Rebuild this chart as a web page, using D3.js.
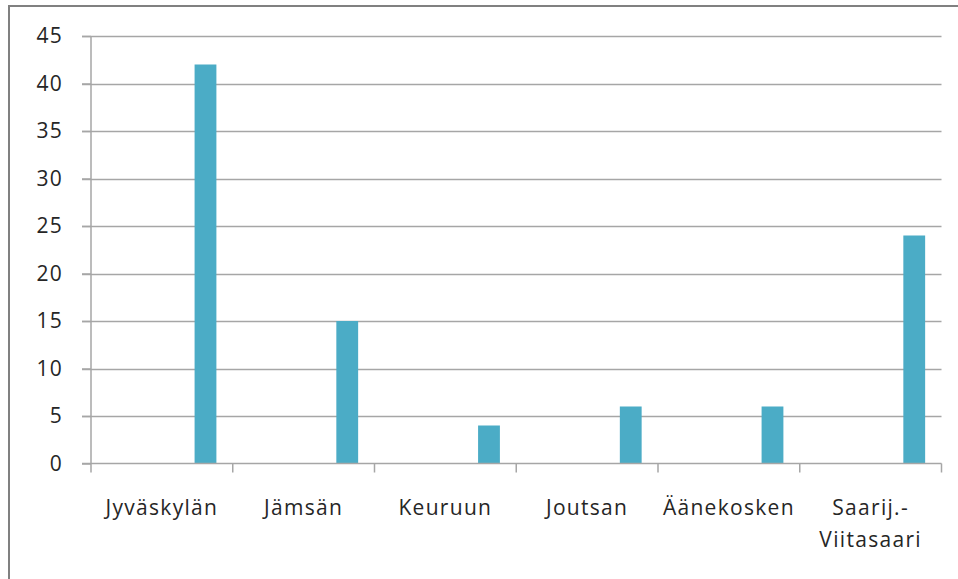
<!DOCTYPE html>
<html><head><meta charset="utf-8">
<script src="https://cdn.jsdelivr.net/npm/d3@7"></script>
<style>body{margin:0;background:#fff}svg{display:block}</style>
</head><body>
<script>
const categories = ["Jyväskylän", "Jämsän", "Keuruun", "Joutsan", "Äänekosken", "Saarij.-\nViitasaari"];
const values = [42, 15, 4, 6, 6, 24];
const yTicks = [0, 5, 10, 15, 20, 25, 30, 35, 40, 45];
const seriesSlots = ["s1", "s2", "s3", "s4", "s5"]; // clustered slots; only last holds data

(function () {
const W = 958, H = 579;
const svg = d3.select("body").append("svg").attr("width", W).attr("height", H);
const font = "'Open Sans', 'DejaVu Sans', sans-serif";

svg.append("rect").attr("x", 9).attr("y", 6).attr("width", 960).attr("height", 600)
  .attr("fill", "none").attr("stroke", "#808080").attr("stroke-width", 2);

const pLeft = 91, pRight = 941.5, pTop = 36, pBottom = 463.5;
const x = d3.scaleBand().domain(categories).range([pLeft, pRight]).paddingInner(0).paddingOuter(0);
const y = d3.scaleLinear().domain([0, 45]).range([pBottom, pTop]);
const bw = x.bandwidth() / (seriesSlots.length + 1.5);
const sub = d3.scaleBand().domain(seriesSlots).range([0.75 * bw, 0.75 * bw + bw * seriesSlots.length]);

svg.append("g").selectAll("line").data(yTicks.filter(d => d > 0)).join("line")
  .attr("x1", pLeft - 9).attr("x2", pRight).attr("y1", d => Math.round(y(d)) + 0.5).attr("y2", d => Math.round(y(d)) + 0.5)
  .attr("stroke", "#a6a6a6").attr("stroke-width", 1.5);

svg.append("g").selectAll("rect").data(categories).join("rect")
  .attr("x", (d) => x(d) + sub("s5"))
  .attr("width", sub.bandwidth())
  .attr("y", (d, i) => y(values[i]))
  .attr("height", (d, i) => y(0) - y(values[i]))
  .attr("fill", "#4bacc6");

const yAxis = d3.axisLeft(y).tickValues(yTicks).tickSize(9).tickPadding(19).tickFormat(d3.format("d"));
const gy = svg.append("g").attr("transform", `translate(${pLeft},0)`).call(yAxis);
gy.select(".domain").attr("stroke", "#a6a6a6").attr("stroke-width", 1.5).attr("d", `M0,${pTop}V${pBottom}`);
gy.selectAll(".tick line").attr("stroke", "#a6a6a6").attr("stroke-width", 1.5);
gy.selectAll(".tick text").attr("font-family", font).attr("font-size", 21).attr("letter-spacing", 1.2).attr("fill", "#262626");

const gx = svg.append("g").attr("transform", `translate(0,${pBottom})`);
gx.append("line").attr("x1", pLeft - 9).attr("x2", pRight).attr("y1", 0).attr("y2", 0)
  .attr("stroke", "#a6a6a6").attr("stroke-width", 1.5);
const bounds = categories.map(c => x(c)).concat([pRight]);
gx.selectAll("line.tk").data(bounds).join("line").attr("class", "tk")
  .attr("x1", d => d).attr("x2", d => d).attr("y1", 0).attr("y2", 9)
  .attr("stroke", "#a6a6a6").attr("stroke-width", 1.5);
const lbl = gx.selectAll("text").data(categories).join("text")
  .attr("x", d => x(d) + x.bandwidth() / 2)
  .attr("y", 51)
  .attr("text-anchor", "middle").attr("font-family", font).attr("font-size", 21)
  .attr("letter-spacing", 1.3).attr("fill", "#262626");
lbl.each(function(d) {
  const lines = d.split("\n");
  d3.select(this).selectAll("tspan").data(lines).join("tspan")
    .attr("x", x(d) + x.bandwidth() / 2).attr("dy", (l, i) => i === 0 ? 0 : 32).text(l => l);
});
})();
</script>
</body></html>
